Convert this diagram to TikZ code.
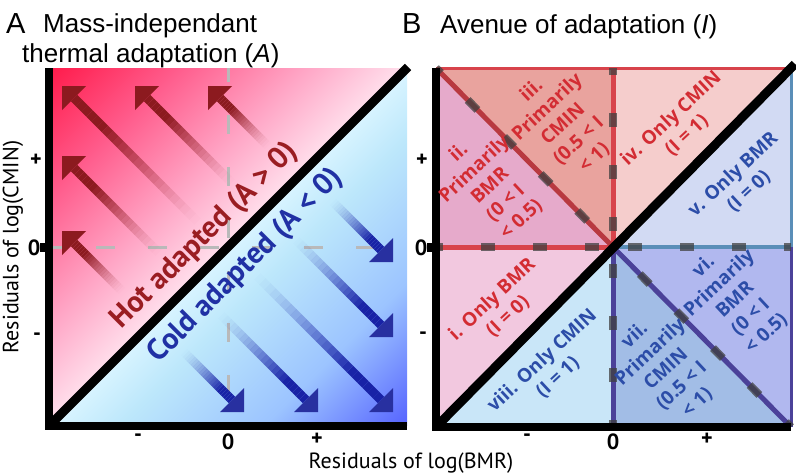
\documentclass[tikz,border=0pt]{standalone}
\usepackage{fontspec}
\setmainfont{Liberation Sans}
\newfontfamily\ptsans{PT Sans}
\newfontfamily\opensans{Open Sans}
\usetikzlibrary{calc}

% panel A
\definecolor{hotA}{HTML}{FF1A4A}
\definecolor{hotB}{HTML}{FF5C8C}
\definecolor{hotC}{HTML}{FFA6C6}
\definecolor{hotD}{HTML}{FFDCEA}
\definecolor{coldD}{HTML}{D6F3FF}
\definecolor{coldC}{HTML}{BCE7FB}
\definecolor{coldB}{HTML}{9CC4FF}
\definecolor{coldA}{HTML}{5562FF}
\definecolor{hotarr}{HTML}{8C1A1F}
\definecolor{coldarr}{HTML}{1822A6}
\definecolor{hottxt}{HTML}{9A1D22}
\definecolor{coldtxt}{HTML}{2030A4}
% panel B
\definecolor{regi}{HTML}{F2C8DF}
\definecolor{regii}{HTML}{E6AACB}
\definecolor{regiii}{HTML}{E9A39E}
\definecolor{regiv}{HTML}{F5CDCC}
\definecolor{regv}{HTML}{D2DAF3}
\definecolor{regvi}{HTML}{B1B8EF}
\definecolor{regvii}{HTML}{A2BDE6}
\definecolor{regviii}{HTML}{C9E6F8}
\definecolor{redln}{HTML}{D8434B}
\definecolor{steelln}{HTML}{5A8EB8}
\definecolor{purpln}{HTML}{4B4199}
\definecolor{redtxt}{HTML}{D32C33}
\definecolor{bluetxt}{HTML}{2C4DA8}

\pgfdeclarehorizontalshading{thermal}{100bp}{color(0bp)=(hotA); color(25bp)=(hotA);
  color(34bp)=(hotB); color(43bp)=(hotC); color(49.5bp)=(hotD); color(50bp)=(white);
  color(50.5bp)=(coldD); color(55bp)=(coldC); color(65bp)=(coldB); color(75bp)=(coldA);
  color(100bp)=(coldA)}

% tip x, tip y, shaft length
\newcommand{\hotarrow}[3]{%
  \coordinate (hb) at ({#1+12},{#2+12});
  \coordinate (ht) at ({#1+12+#3*0.7071},{#2+12+#3*0.7071});
  \foreach \k in {1,...,24}{%
    \pgfmathsetmacro\fa{(\k-1)/24}%
    \pgfmathsetmacro\fb{\k/24}%
    \pgfmathsetmacro\op{pow(min(1,1.25*\fb),1.6)}%
    \draw[hotarr, line width=9pt, draw opacity=\op] ($(ht)!\fa!(hb)$) -- ($(ht)!\fb!(hb)$);
  }
  \fill[hotarr] (#1,#2) -- ++(24,0) -- ++(-24,24) -- cycle;
}
\newcommand{\coldarrow}[3]{%
  \coordinate (hb) at ({#1-12},{#2-12});
  \coordinate (ht) at ({#1-12-#3*0.7071},{#2-12-#3*0.7071});
  \foreach \k in {1,...,24}{%
    \pgfmathsetmacro\fa{(\k-1)/24}%
    \pgfmathsetmacro\fb{\k/24}%
    \pgfmathsetmacro\op{pow(min(1,1.25*\fb),1.6)}%
    \draw[coldarr, line width=9pt, draw opacity=\op] ($(ht)!\fa!(hb)$) -- ($(ht)!\fb!(hb)$);
  }
  \fill[coldarr!85!gray] (#1,#2) -- ++(-24,0) -- ++(24,-24) -- cycle;
}

\begin{document}
\begin{tikzpicture}[x=1pt, y=-1pt,
    ttl/.style={font=\fontsize{26}{28}\selectfont, inner sep=0pt},
    bigltr/.style={font=\fontsize{29}{30}\selectfont, inner sep=0pt},
    axttl/.style={font=\ptsans\fontsize{22}{24}\selectfont, inner sep=0pt},
    tick/.style={font=\ptsans\bfseries\fontsize{22}{22}\selectfont, inner sep=0pt},
    axisln/.style={line width=8pt},
    diagln/.style={line width=9pt},
    greydash/.style={draw=gray!55, line width=3pt, dash pattern=on 19pt off 33pt, dash phase=5pt},
    darkdash/.style={draw=black!75, draw opacity=0.75, line width=8pt, dash pattern=on 14pt off 38pt, dash phase=7pt},
    bigtxt/.style={font=\ptsans\bfseries\fontsize{30}{32}\selectfont, rotate=45, inner sep=0pt},
    reglbl/.style={font=\opensans\bfseries\fontsize{19}{23}\selectfont, rotate=43, align=center, inner sep=0pt},
  ]
  \useasboundingbox (0,0) rectangle (796,474);

  % ---------- panel A ----------
  \node[bigltr, anchor=base west] (ltrA) at (6,33) {A};
  \node[ttl, anchor=base west] (ttlA1) at (43,32) {Mass-independant};
  \node[ttl, anchor=base west] (ttlA2) at (22,62) {thermal adaptation (\textit{A})};

  \begin{scope}
    \clip (49,68) rectangle (407,426);
    \shade[shading=thermal, transform canvas={rotate around={-45:(228,247)}}]
      (-25,-6) rectangle (481,500);
  \end{scope}

  \draw[greydash] (228,68) -- (228,426);
  \draw[greydash] (49,247) -- (407,247);

  % hot arrows (up-left), cold arrows (down-right)
  \hotarrow{62}{86}{175}
  \hotarrow{135}{86}{120}
  \hotarrow{208}{86}{68}
  \hotarrow{62}{156}{120}
  \hotarrow{62}{231}{68}
  \coldarrow{393}{262}{68}
  \coldarrow{393}{337}{120}
  \coldarrow{393}{412}{175}
  \coldarrow{318}{412}{120}
  \coldarrow{244}{412}{68}

  \draw[diagln] (50,425) -- (408,67);
  \node[bigtxt, text=hottxt] (hot) at (205,236) {Hot adapted (A > 0)};
  \node[bigtxt, text=coldtxt] (cold) at (246,266) {Cold adapted (A < 0)};

  \draw[axisln] (49,68) -- (49,426) -- (407,426);
  \fill (40,243) rectangle (45,252);

  \node[tick] (yApl) at (36,160) {+};
  \node[tick] (yA0) at (34,248) {0};
  \node[tick] (yAmi) at (37,337) {-};
  \node[tick] (xAmi) at (138,438) {-};
  \node[tick] (xA0) at (228,442) {0};
  \node[tick] (xApl) at (317,439) {+};
  \node[axttl, rotate=90] (ylbl) at (13,247) {Residuals of log(CMIN)};
  \node[axttl, anchor=base] (xlbl) at (411,468) {Residuals of log(BMR)};

  % ---------- panel B ----------
  \node[bigltr, anchor=base west] (ltrB) at (402,33) {B};
  \node[ttl, anchor=base west] (ttlB) at (440,33) {Avenue of adaptation (\textit{I})};

  \coordinate (bTL) at (436,68);
  \coordinate (bT) at (613,68);
  \coordinate (bTR) at (791,68);
  \coordinate (bL) at (436,247);
  \coordinate (bC) at (613,247);
  \coordinate (bR) at (791,247);
  \coordinate (bBL) at (436,427);
  \coordinate (bB) at (613,427);
  \coordinate (bBR) at (791,427);

  \fill[regiii] (bTL) -- (bT) -- (bC) -- cycle;
  \fill[regii] (bTL) -- (bC) -- (bL) -- cycle;
  \fill[regiv] (bT) -- (bTR) -- (bC) -- cycle;
  \fill[regv] (bTR) -- (bR) -- (bC) -- cycle;
  \fill[regi] (bL) -- (bC) -- (bBL) -- cycle;
  \fill[regviii] (bBL) -- (bC) -- (bB) -- cycle;
  \fill[regvii] (bB) -- (bC) -- (bBR) -- cycle;
  \fill[regvi] (bC) -- (bR) -- (bBR) -- cycle;

  \draw[redln, line width=3pt] (bTL) -- (bTR);
  \draw[redln, line width=5pt] (bT) -- (bC);
  \draw[redln, line width=5pt] (bL) -- (bC);
  \draw[redln!85!black, line width=5pt] (bTL) -- (bC);
  \draw[steelln, line width=3pt] (bTR) -- (bR);
  \draw[steelln, line width=4pt] (bR) -- (bC);
  \draw[purpln, line width=3pt] (bR) -- (bBR);
  \draw[purpln, line width=5pt] (bC) -- (bB);
  \draw[purpln, line width=5pt] (bC) -- (bBR);

  \draw[darkdash] (bT) -- (bC);
  \draw[darkdash] (bL) -- (bC);
  \draw[darkdash] (bR) -- (bC);
  \draw[darkdash] (bB) -- (bC);
  \draw[darkdash] (bTL) -- (bC);
  \draw[darkdash] (bBR) -- (bC);

  \draw[diagln] (bBL) -- (795,64);
  \draw[axisln] (bTL) -- (bBL) -- (bBR);
  \fill (427,243) rectangle (432,252);

  \node[reglbl, text=redtxt] (ri) at (500,308) {i. Only BMR\\(I = 0)};
  \node[reglbl, text=redtxt] (rii) at (490,186) {ii.\\Primarily\\BMR\\(0 < I\\< 0.5)};
  \node[reglbl, text=redtxt] (riii) at (563,124) {iii.\\Primarily\\CMIN\\(0.5 < I\\< 1)};
  \node[reglbl, text=redtxt] (riv) at (679,127) {iv. Only CMIN\\(I = 1)};
  \node[reglbl, text=bluetxt] (rv) at (741,183) {v. Only BMR\\(I = 0)};
  \node[reglbl, text=bluetxt] (rvi) at (735,300) {vi.\\Primarily\\BMR\\(0 < I\\< 0.5)};
  \node[reglbl, text=bluetxt] (rvii) at (666,369) {vii.\\Primarily\\CMIN\\(0.5 < I\\< 1)};
  \node[reglbl, text=bluetxt] (rviii) at (550,369) {viii. Only CMIN\\(I = 1)};

  \node[tick] (yBpl) at (422,160) {+};
  \node[tick] (yB0) at (421,248) {0};
  \node[tick] (yBmi) at (423,336) {-};
  \node[tick] (xBmi) at (527,438) {-};
  \node[tick] (xB0) at (613,442) {0};
  \node[tick] (xBpl) at (707,439) {+};
\end{tikzpicture}
\end{document}
